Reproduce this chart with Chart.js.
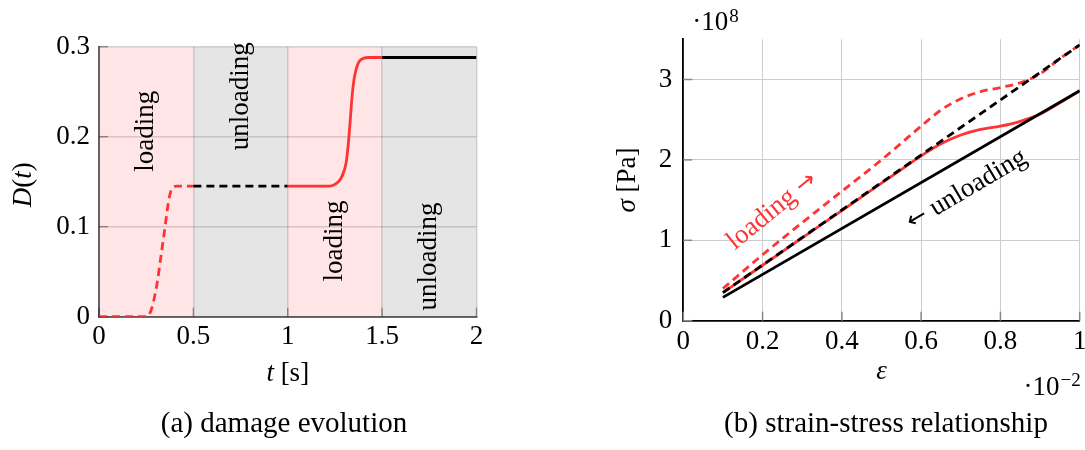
<!DOCTYPE html>
<html><head><meta charset="utf-8">
<script src="https://cdn.jsdelivr.net/npm/chart.js@4.4.1/dist/chart.umd.min.js"></script>
<style>
html,body{margin:0;padding:0;background:#fff;width:1085px;height:450px;overflow:hidden;}
#wrap{position:relative;width:1085px;height:450px;background:#fff;}
#ca{position:absolute;left:0;top:0;}
#cb{position:absolute;left:545px;top:0;}
.cap{position:absolute;top:408px;font-family:"Liberation Serif","Times New Roman",serif;font-size:29px;line-height:29px;color:#000;white-space:nowrap;transform:translateX(-50%);}
</style></head><body>
<div id="wrap">
<canvas id="ca" width="545" height="450"></canvas>
<canvas id="cb" width="540" height="450"></canvas>
<div class="cap" style="left:284px">(a) damage evolution</div>
<div class="cap" style="left:886px">(b) strain-stress relationship</div>
</div>
<script>
// ---------- (a) damage evolution ----------
const timeLoad1     = [0, 0.25, 0.27, 0.29, 0.31, 0.33, 0.35, 0.36, 0.37, 0.38, 0.39, 0.41, 0.45, 0.5];
const damageLoad1   = [0, 0, 0.004, 0.018, 0.04, 0.07, 0.1, 0.116, 0.13, 0.139, 0.143, 0.145, 0.145, 0.145];
const timeUnload1   = [0.5, 1.0];
const damageUnload1 = [0.145, 0.145];
const timeLoad2     = [1.0, 1.22, 1.25, 1.28, 1.30, 1.31, 1.32, 1.33, 1.34, 1.35, 1.36, 1.37, 1.38, 1.40, 1.43, 1.5];
const damageLoad2   = [0.145, 0.145, 0.147, 0.153, 0.163, 0.172, 0.19, 0.215, 0.243, 0.262, 0.273, 0.28, 0.284, 0.287, 0.288, 0.288];
const timeUnload2   = [1.5, 2.0];
const damageUnload2 = [0.288, 0.288];
const phaseStart  = [0, 0.5, 1.0, 1.5];
const phaseEnd    = [0.5, 1.0, 1.5, 2.0];
const phaseName   = ['loading', 'unloading', 'loading', 'unloading'];
const phaseLabelD = [0.206, 0.245, 0.084, 0.067];
const timeTicks   = [0, 0.5, 1, 1.5, 2];
const damageTicks = [0, 0.1, 0.2, 0.3];

// ---------- (b) strain-stress relationship (strain x1e-2, stress x1e8 Pa) ----------
const strainCurve     = [0.1, 0.2, 0.3, 0.4, 0.5, 0.55, 0.6, 0.65, 0.7, 0.75, 0.8, 0.85, 0.9, 0.95, 1.0];
const stressLoadFirst = [0.40, 0.82, 1.22, 1.61, 2.00, 2.21, 2.42, 2.62, 2.76, 2.85, 2.90, 2.96, 3.07, 3.26, 3.43];
const stressLoadSecond= [0.35, 0.69, 1.03, 1.37, 1.71, 1.88, 2.05, 2.20, 2.31, 2.38, 2.42, 2.48, 2.57, 2.71, 2.86];
const strainLine      = [0.1, 1.0];
const stressUnloadFirst  = [0.35, 3.43];
const stressUnloadSecond = [0.29, 2.86];
const strainTicks = [0, 0.2, 0.4, 0.6, 0.8, 1];
const stressTicks = [0, 1, 2, 3];

const SERIF = '"Liberation Serif","Times New Roman",serif';
const F = (s, it) => (it ? 'italic ' : '') + s + 'px ' + SERIF;
const ARROWF = s => s + 'px "DejaVu Sans",sans-serif';
const pts = (xs, ys) => xs.map((x, i) => ({x: x, y: ys[i]}));
const RED = '#ff3333';

function drawRich(ctx, parts, x, y, angle, color, baseline) {
  ctx.save();
  ctx.translate(x, y); ctx.rotate(angle || 0);
  let w = 0;
  parts.forEach(p => { ctx.font = p.f; p.w = ctx.measureText(p.t).width; w += p.w; });
  let cx = -w / 2;
  ctx.textAlign = 'left'; ctx.textBaseline = baseline || 'alphabetic'; ctx.fillStyle = color || '#000';
  parts.forEach(p => { ctx.font = p.f; ctx.fillText(p.t, cx, p.dy || 0); cx += p.w; });
  ctx.restore();
}

function innerTicks(chart, color) {
  const {ctx, chartArea: a, scales: {x, y}} = chart;
  ctx.save(); ctx.strokeStyle = color; ctx.lineWidth = 1.5;
  x.ticks.forEach(t => { const px = x.getPixelForValue(t.value); ctx.beginPath(); ctx.moveTo(px, a.bottom); ctx.lineTo(px, a.bottom - 9); ctx.stroke(); });
  y.ticks.forEach(t => { const py = y.getPixelForValue(t.value); ctx.beginPath(); ctx.moveTo(a.left, py); ctx.lineTo(a.left + 9, py); ctx.stroke(); });
  ctx.restore();
}

const pluginA = {
  id: 'pa',
  beforeDraw(chart) {
    const {ctx, chartArea: a, scales: {x}} = chart;
    ctx.save();
    phaseStart.forEach((s, i) => {
      const x0 = x.getPixelForValue(s), x1 = x.getPixelForValue(phaseEnd[i]);
      ctx.fillStyle = phaseName[i] === 'loading' ? '#ffe5e5' : '#e5e5e5';
      ctx.fillRect(x0, a.top, x1 - x0, a.bottom - a.top);
    });
    ctx.restore();
  },
  beforeDatasetsDraw(chart) { innerTicks(chart, 'rgba(0,0,0,0.35)'); },
  afterDraw(chart) {
    const {ctx, chartArea: a, scales: {x, y}} = chart;
    phaseStart.forEach((s, i) => {
      const cx = x.getPixelForValue((s + phaseEnd[i]) / 2);
      drawRich(ctx, [{t: phaseName[i], f: F(27)}], cx, y.getPixelForValue(phaseLabelD[i]), -Math.PI / 2, '#000', 'middle');
    });
    drawRich(ctx, [{t: 'D', f: F(27, true)}, {t: '(', f: F(27)}, {t: 't', f: F(27, true)}, {t: ')', f: F(27)}],
      a.left - 75, (a.top + a.bottom) / 2 + 3, -Math.PI / 2, '#000', 'middle');
    drawRich(ctx, [{t: 't', f: F(27, true)}, {t: ' [s]', f: F(27)}], (a.left + a.right) / 2, a.bottom + 64, 0);
  }
};

const pluginB = {
  id: 'pb',
  beforeDatasetsDraw(chart) { innerTicks(chart, '#888'); },
  afterDraw(chart) {
    const {ctx, chartArea: a, scales: {x, y}} = chart;
    drawRich(ctx, [{t: 'loading ', f: F(27)}, {t: '\u2192', f: ARROWF(24)}], x.getPixelForValue(0.224), y.getPixelForValue(1.366), -39 * Math.PI / 180, RED, 'middle');
    drawRich(ctx, [{t: '\u2190', f: ARROWF(24)}, {t: ' unloading', f: F(27)}], x.getPixelForValue(0.715), y.getPixelForValue(1.63), -30.5 * Math.PI / 180, '#000', 'middle');
    drawRich(ctx, [{t: '\u03c3', f: F(27, true)}, {t: ' [Pa]', f: F(27)}], a.left - 55, (a.top + a.bottom) / 2, -Math.PI / 2, '#000', 'middle');
    drawRich(ctx, [{t: '\u03b5', f: F(27, true)}], (a.left + a.right) / 2, a.bottom + 58, 0);
    // multipliers
    ctx.save(); ctx.fillStyle = '#000'; ctx.textBaseline = 'alphabetic'; ctx.textAlign = 'left';
    ctx.font = F(27); let w = ctx.measureText('\u00b710').width;
    ctx.fillText('\u00b710', a.left + 9, a.top - 9);
    ctx.font = F(19); ctx.fillText('8', a.left + 9 + w + 1, a.top - 17);
    ctx.font = F(19); const w2 = ctx.measureText('\u22122').width;
    ctx.font = F(27); const w1 = ctx.measureText('\u00b710').width;
    const xr = a.right + 1;
    ctx.fillText('\u00b710', xr - w2 - 1 - w1, a.bottom + 74);
    ctx.font = F(19); ctx.fillText('\u22122', xr - w2, a.bottom + 65);
    ctx.restore();
  }
};

const tickFont = {family: SERIF, size: 27};
const commonLine = {pointRadius: 0, borderWidth: 2.8, fill: false, cubicInterpolationMode: 'monotone', borderCapStyle: 'butt'};

new Chart(document.getElementById('ca'), {
  type: 'line',
  data: {datasets: [
    Object.assign({data: pts(timeUnload2, damageUnload2), borderColor: '#000'}, commonLine),
    Object.assign({data: pts(timeLoad2, damageLoad2), borderColor: RED}, commonLine),
    Object.assign({data: pts(timeUnload1, damageUnload1), borderColor: '#000', borderDash: [8, 5]}, commonLine),
    Object.assign({data: pts(timeLoad1, damageLoad1), borderColor: RED, borderDash: [8, 5]}, commonLine)
  ]},
  options: {
    responsive: false, animation: false,
    layout: {padding: {left: 0, top: 46.7, right: 68.5, bottom: 0}},
    plugins: {legend: {display: false}, tooltip: {enabled: false}},
    scales: {
      x: {type: 'linear', min: 0, max: 2,
        afterBuildTicks: s => { s.ticks = timeTicks.map(v => ({value: v})); },
        afterFit: s => { s.height = 133.3; s.paddingLeft = 0; s.paddingRight = 0; },
        ticks: {font: tickFont, color: '#000', padding: 4, callback: v => String(v), maxRotation: 0},
        grid: {color: 'rgba(0,0,0,0.15)', lineWidth: 1.5, drawTicks: false},
        border: {color: 'rgba(0,0,0,0.55)', width: 2}},
      y: {type: 'linear', min: 0, max: 0.3,
        afterBuildTicks: s => { s.ticks = damageTicks.map(v => ({value: v})); },
        afterFit: s => { s.width = 99; s.paddingTop = 0; s.paddingBottom = 0; },
        ticks: {font: tickFont, color: '#000', padding: 9, callback: v => String(v)},
        grid: {color: 'rgba(0,0,0,0.15)', lineWidth: 1.5, drawTicks: false},
        border: {color: 'rgba(0,0,0,0.55)', width: 2}}
    }
  },
  plugins: [pluginA]
});

new Chart(document.getElementById('cb'), {
  type: 'line',
  data: {datasets: [
    Object.assign({data: pts(strainLine, stressUnloadSecond), borderColor: '#000'}, commonLine),
    Object.assign({data: pts(strainLine, stressUnloadFirst), borderColor: '#000', borderDash: [8, 5]}, commonLine),
    Object.assign({data: pts(strainCurve, stressLoadFirst), borderColor: RED, borderDash: [8, 5]}, commonLine),
    Object.assign({data: pts(strainCurve, stressLoadSecond), borderColor: RED}, commonLine)
  ]},
  options: {
    responsive: false, animation: false,
    layout: {padding: {left: 0, top: 39.3, right: 5.3, bottom: 0}},
    plugins: {legend: {display: false}, tooltip: {enabled: false}},
    scales: {
      x: {type: 'linear', min: 0, max: 1,
        afterBuildTicks: s => { s.ticks = strainTicks.map(v => ({value: v})); },
        afterFit: s => { s.height = 129.3; s.paddingLeft = 0; s.paddingRight = 0; },
        ticks: {font: tickFont, color: '#000', padding: 5, callback: v => String(v), maxRotation: 0},
        grid: {color: '#cccccc', lineWidth: 1, drawTicks: false},
        border: {color: '#000', width: 1.8}},
      y: {type: 'linear', min: 0, max: 3.5,
        afterBuildTicks: s => { s.ticks = stressTicks.map(v => ({value: v})); },
        afterFit: s => { s.width = 138.3; s.paddingTop = 0; s.paddingBottom = 0; },
        ticks: {font: tickFont, color: '#000', padding: 11, callback: v => String(v)},
        grid: {color: '#cccccc', lineWidth: 1, drawTicks: false},
        border: {color: '#000', width: 1.8}}
    }
  },
  plugins: [pluginB]
});
</script>
</body></html>
